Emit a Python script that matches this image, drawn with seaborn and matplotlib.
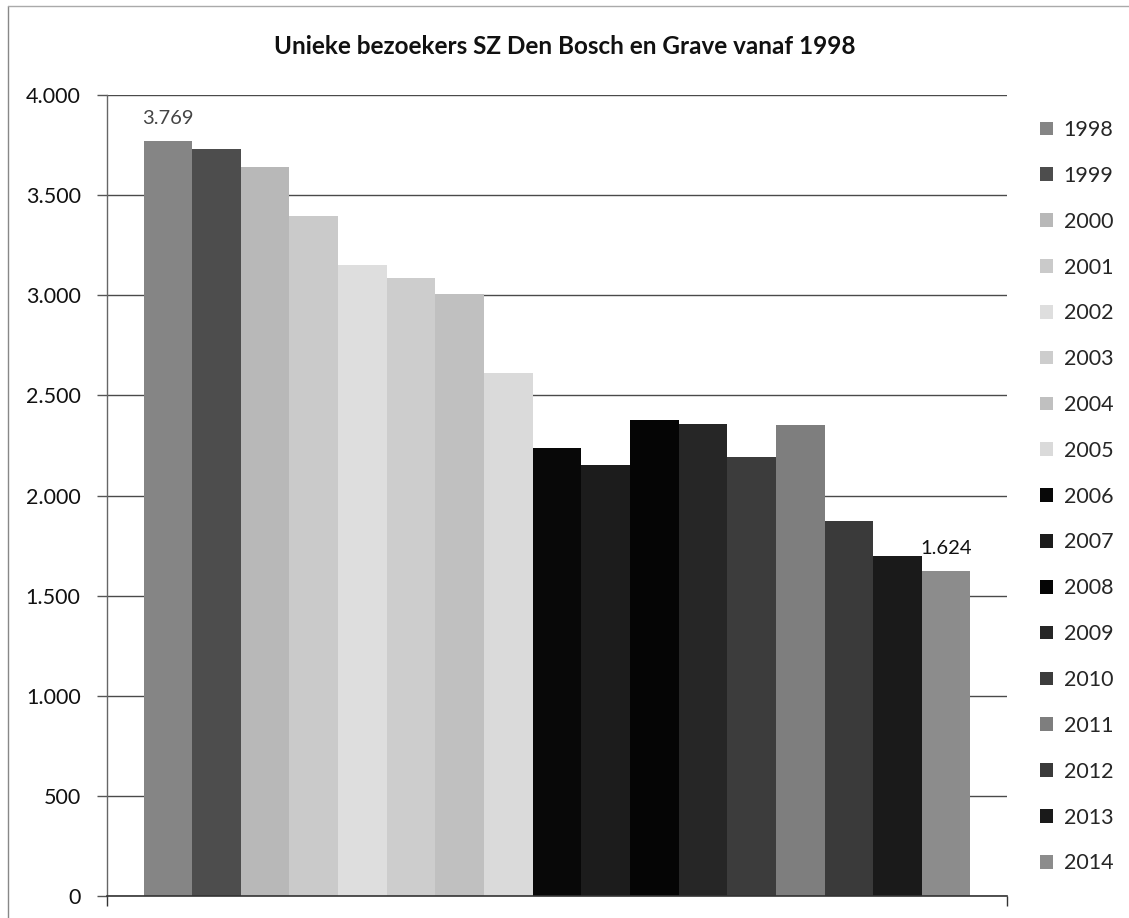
import matplotlib
matplotlib.use("Agg")
import matplotlib.pyplot as plt
from matplotlib.lines import Line2D
from matplotlib.ticker import FuncFormatter, FixedLocator
import seaborn as sns
import pandas as pd

# ---- data ----
years = ["1998", "1999", "2000", "2001", "2002", "2003", "2004", "2005", "2006",
         "2007", "2008", "2009", "2010", "2011", "2012", "2013", "2014"]
visitors = [3769, 3728, 3638, 3395, 3152, 3088, 3005, 2612, 2238,
            2150, 2378, 2358, 2190, 2352, 1872, 1700, 1624]
bar_colors = ["#858585", "#4d4d4d", "#b8b8b8", "#cacaca", "#dedede", "#cdcdcd",
              "#c0c0c0", "#dadada", "#080808", "#1c1c1c", "#050505", "#262626",
              "#3c3c3c", "#7e7e7e", "#3a3a3a", "#1a1a1a", "#8c8c8c"]
title = "Unieke bezoekers SZ Den Bosch en Grave vanaf 1998"
y_ticks = [0, 500, 1000, 1500, 2000, 2500, 3000, 3500, 4000]
labelled = {"1998": "3.769", "2014": "1.624"}

sns.set_theme(style="white")
plt.rcParams["font.family"] = ["Lato", "DejaVu Sans"]

df = pd.DataFrame({"cat": [""] * len(years), "year": years, "value": visitors})

fig = plt.figure(figsize=(11.29, 9.18), dpi=100)
ax = fig.add_axes([107 / 1129, 1 - 896 / 918, 900 / 1129, 801 / 918])

sns.barplot(data=df, x="cat", y="value", hue="year", hue_order=years,
            palette=dict(zip(years, bar_colors)), saturation=1,
            width=827 / 900, gap=0, errorbar=None, ax=ax, legend=True,
            linewidth=0, edgecolor="none")

ax.set_ylim(0, 4000)
ax.set_xlim(-0.5, 0.5)
ax.set_xlabel("")
ax.set_ylabel("")

# gridlines
ax.yaxis.set_major_locator(FixedLocator(y_ticks))
ax.yaxis.set_major_formatter(FuncFormatter(lambda v, p: f"{int(v):,}".replace(",", ".")))
ax.grid(axis="y", color="#4a4a4a", linewidth=1.0)
ax.grid(axis="x", visible=False)
ax.set_axisbelow(True)

for s in ["top", "right"]:
    ax.spines[s].set_visible(False)
ax.spines["left"].set_color("#666666")
ax.spines["left"].set_linewidth(1.0)
ax.spines["bottom"].set_color("#333333")
ax.spines["bottom"].set_linewidth(1.2)

ax.tick_params(axis="y", direction="out", length=7, width=1, color="#555555",
               pad=12, labelsize=15.5, labelcolor="#111111", left=True)
ax.set_xticks([])
ax.set_xticks([-0.5, 0.5], minor=True)
ax.tick_params(axis="x", which="minor", direction="out", length=7, width=1,
               color="#333333", bottom=True, labelbottom=False)

# data labels
for cont, yr in zip(ax.containers, years):
    if yr in labelled:
        col = "#444444" if yr == "1998" else "#111111"
        ax.bar_label(cont, labels=[labelled[yr]], padding=10, fontsize=14.5, color=col)

# legend
handles, labels = ax.get_legend_handles_labels()
ax.get_legend().remove()
fig.legend(handles, labels, loc="upper left", bbox_to_anchor=(1040 / 1129, 1 - 120 / 918),
           frameon=False, fontsize=15.5, handlelength=0.6, handleheight=0.6,
           handletextpad=0.5, labelspacing=1.2, borderaxespad=0, borderpad=0)

fig.text(0.5, 1 - 47 / 918, title, ha="center", va="center",
         fontsize=17.5, fontweight="bold", color="#111111")

# outer chart border (left and top)
fig.add_artist(Line2D([8 / 1129, 8 / 1129], [0, 1 - 6 / 918], transform=fig.transFigure,
                      color="#888888", linewidth=1))
fig.add_artist(Line2D([8 / 1129, 1], [1 - 6 / 918, 1 - 6 / 918], transform=fig.transFigure,
                      color="#aaaaaa", linewidth=1))

fig.savefig("out.png", dpi=100)
